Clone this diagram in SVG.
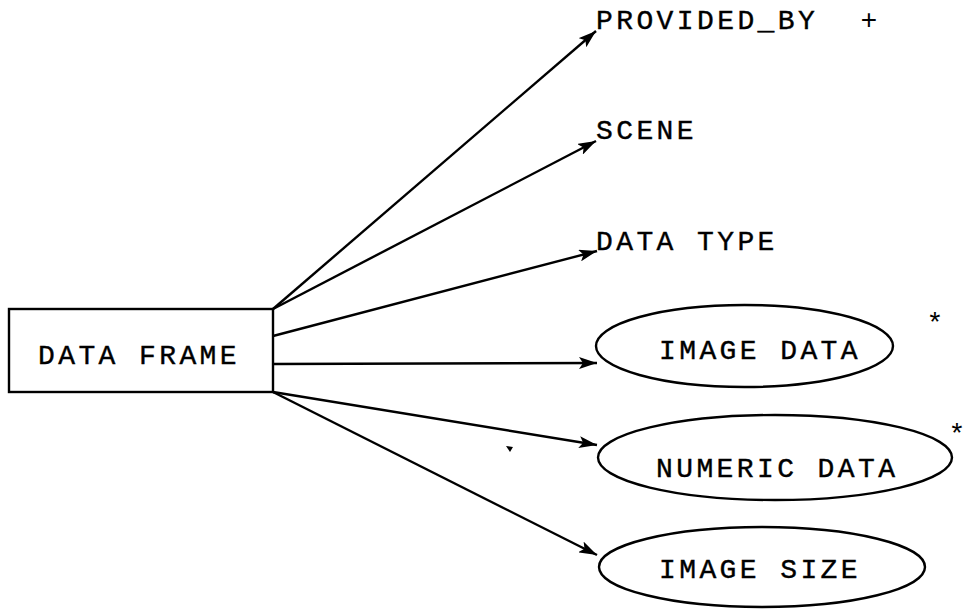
<svg xmlns="http://www.w3.org/2000/svg" width="967" height="610" viewBox="0 0 967 610">
  <style>
    .shape { fill: #fff; stroke: #000; stroke-width: 2.4; }
    .label { font-family: "Liberation Mono", "Courier New", monospace; font-size: 28px; letter-spacing: 3.4px; fill: #000; stroke: #000; stroke-width: 0.4; }
    .mark { font-family: "Liberation Mono", "Courier New", monospace; font-size: 28px; fill: #000; }
    .edge { fill: none; stroke: #000; stroke-width: 2.4; marker-end: url(#head); }
  </style>
  <defs>
    <marker id="head" markerUnits="userSpaceOnUse" viewBox="0 0 18 12" refX="18" refY="6" markerWidth="18" markerHeight="12" orient="auto">
      <path d="M0,0 L18,6 L0,12 L4,6 Z" fill="#000"/>
    </marker>
  </defs>
  <rect width="967" height="610" fill="#fff"/>

  <!-- connectors fanning out from the frame -->
  <g id="connectors">
    <line class="edge" x1="273" y1="309" x2="596" y2="31"/>
    <line class="edge" x1="273" y1="309" x2="596" y2="141"/>
    <line class="edge" x1="273" y1="336" x2="597" y2="251"/>
    <line class="edge" x1="273" y1="364" x2="597" y2="363"/>
    <line class="edge" x1="273" y1="392" x2="597" y2="445"/>
    <line class="edge" x1="273" y1="392" x2="597" y2="555"/>
  </g>

  <g id="data-frame">
    <rect class="shape" x="9" y="309" width="264" height="83"/>
    <text class="label" x="38" y="364">DATA FRAME</text>
  </g>

  <g id="provided-by">
    <text class="label" x="596" y="29">PROVIDED_BY</text>
    <text class="mark" x="869" y="29" text-anchor="middle">+</text>
  </g>

  <g id="scene">
    <text class="label" x="596" y="139">SCENE</text>
  </g>

  <g id="data-type">
    <text class="label" x="596" y="250">DATA TYPE</text>
  </g>

  <g id="image-data">
    <ellipse class="shape" cx="744.5" cy="346" rx="148.5" ry="41"/>
    <text class="label" x="659" y="359">IMAGE DATA</text>
    <text class="mark" x="935" y="332" text-anchor="middle">*</text>
  </g>

  <g id="numeric-data">
    <ellipse class="shape" cx="775" cy="457.5" rx="177" ry="42.5"/>
    <text class="label" x="656" y="477">NUMERIC DATA</text>
    <text class="mark" x="957" y="443" text-anchor="middle">*</text>
  </g>

  <g id="image-size">
    <ellipse class="shape" cx="762" cy="567" rx="163" ry="40"/>
    <text class="label" x="659" y="578">IMAGE SIZE</text>
  </g>

  <!-- stray speck below the lower connectors -->
  <path d="M506,446 L513,447 L510,452 Z" fill="#000"/>
</svg>
